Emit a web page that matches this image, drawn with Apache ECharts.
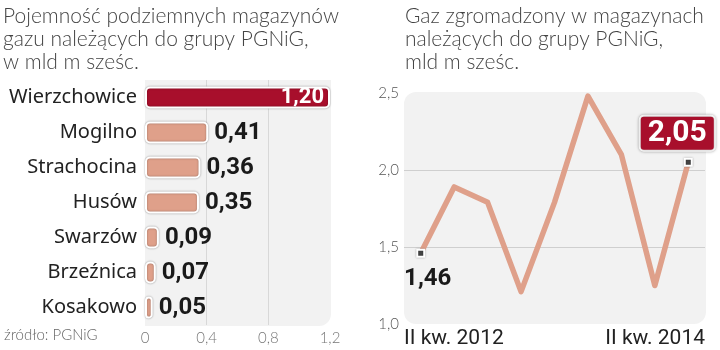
<!DOCTYPE html>
<html>
<head>
<meta charset="utf-8">
<script src="https://cdn.jsdelivr.net/npm/echarts@6/dist/echarts.min.js"></script>
<style>html,body{margin:0;padding:0;background:#fff}#c{width:720px;height:350px}</style>
</head>
<body>
<div id="c"></div>
<script>
// Left chart: storage capacity
const storageNames = ['Wierzchowice','Mogilno','Strachocina','Husów','Swarzów','Brzeźnica','Kosakowo'];
const storageValues = [1.20, 0.41, 0.36, 0.35, 0.09, 0.07, 0.05];
const capacityTicks = [0, 0.4, 0.8, 1.2];
// Right chart: gas stored
const quarters = ['II kw. 2012','III kw. 2012','IV kw. 2012','I kw. 2013','II kw. 2013','III kw. 2013','IV kw. 2013','I kw. 2014','II kw. 2014'];
const gasValues = [1.46, 1.89, 1.79, 1.21, 1.79, 2.48, 2.10, 1.25, 2.05];
const gasTicks = [1.0, 1.5, 2.0, 2.5];

const titleLeft = 'Pojemność podziemnych magazynów\ngazu należących do grupy PGNiG,\nw mld m sześc.';
const titleRight = 'Gaz zgromadzony w magazynach\nnależących do grupy PGNiG,\nmld m sześc.';
const sourceText = 'źródło: PGNiG';

const DARK = '#a80f2c', SALMON = '#dfa08a', BG = '#f2f2f2';
const COND = 'Roboto, "Liberation Sans", sans-serif';
const SANS = '"Noto Sans", "Open Sans", sans-serif';
const LIGHT = 'Lato, "Open Sans", sans-serif';
const comma = (v, d) => v.toFixed(d).replace('.', ',');

const chart = echarts.init(document.getElementById('c'), null, {renderer: 'canvas'});
const titleStyle = {fontFamily: LIGHT, fontWeight: 300, fontSize: 21, lineHeight: 23, color: '#444'};

chart.setOption({
  animation: false,
  textStyle: {fontFamily: SANS},
  title: [
    {text: titleLeft, left: 3, top: 5, padding: 0, textStyle: titleStyle},
    {text: titleRight, left: 405, top: 5, padding: 0, textStyle: titleStyle},
    {text: sourceText, left: 4, top: 328, padding: 0, textStyle: {fontFamily: LIGHT, fontWeight: 300, fontSize: 15, color: '#666'}}
  ],
  graphic: [
    {type: 'rect', z: -10, shape: {x: 145, y: 80, width: 186, height: 246, r: [0, 0, 12, 0]}, style: {fill: BG}},
    {type: 'rect', z: -10, shape: {x: 404, y: 92, width: 302, height: 232, r: 12}, style: {fill: BG}}
  ],
  grid: [
    {left: 145, right: 390, top: 80, height: 245},
    {left: 404, right: 15, top: 93, bottom: 26}
  ],
  xAxis: [
    {
      gridIndex: 0, type: 'value', min: capacityTicks[0], max: capacityTicks[capacityTicks.length - 1], interval: 0.4,
      axisLine: {show: false}, axisTick: {show: false},
      splitLine: {show: true, showMinLine: false, showMaxLine: false, lineStyle: {color: '#d8d8d8', width: 1}},
      axisLabel: {formatter: v => v === 0 ? '0' : comma(v, 1), color: '#777', fontSize: 15, fontFamily: LIGHT, fontWeight: 300, margin: 6}
    },
    {
      gridIndex: 1, type: 'category', data: quarters, boundaryGap: true, position: 'bottom',
      axisLine: {show: false}, axisTick: {show: false}, axisLabel: {show: false}
    },
    {
      // label-only axis spanning the full plot width, showing the first and last quarter
      gridIndex: 1, type: 'category', data: quarters, boundaryGap: false, position: 'bottom', offset: 0,
      axisLine: {show: false}, axisTick: {show: false}, splitLine: {show: false},
      axisLabel: {
        interval: (i) => i === 0 || i === quarters.length - 1,
        alignMinLabel: 'left', alignMaxLabel: 'right',
        color: '#222', fontSize: 21, margin: 4, fontFamily: 'Roboto', fontWeight: 'normal'
      }
    }
  ],
  yAxis: [
    {
      gridIndex: 0, type: 'category', data: storageNames, inverse: true,
      axisLine: {show: false}, axisTick: {show: false},
      axisLabel: {color: '#222', fontSize: 20, margin: 8, fontFamily: SANS}
    },
    {
      gridIndex: 1, type: 'value', min: gasTicks[0], max: gasTicks[gasTicks.length - 1], interval: 0.5,
      axisLine: {show: false}, axisTick: {show: false},
      splitLine: {show: true, showMinLine: false, showMaxLine: false, lineStyle: {color: '#cfcfcf', width: 1}},
      axisLabel: {formatter: v => comma(v, 1), color: '#555', fontSize: 15, margin: 5, fontFamily: LIGHT, fontWeight: 300}
    }
  ],
  series: [
    {
      type: 'bar', xAxisIndex: 0, yAxisIndex: 0, barWidth: 22,
      data: storageValues.map((v, i) => i === 0 ? {
        value: v,
        itemStyle: {color: DARK},
        label: {position: 'insideRight', color: '#fff', fontSize: 22, distance: 6}
      } : {value: v}),
      itemStyle: {color: SALMON, borderColor: '#fff', borderWidth: 2, borderRadius: 4, shadowColor: 'rgba(0,0,0,0.35)', shadowBlur: 2},
      label: {
        show: true, position: 'right', distance: 6,
        formatter: p => comma(p.value, 2),
        fontFamily: COND, fontWeight: 'bold', fontSize: 24, color: '#1a1a1a'
      }
    },
    {
      type: 'line', xAxisIndex: 1, yAxisIndex: 1,
      symbol: 'rect', symbolSize: 7,
      itemStyle: {color: '#444', borderColor: '#fff', borderWidth: 2, shadowColor: 'rgba(0,0,0,0.3)', shadowBlur: 2},
      lineStyle: {color: SALMON, width: 5.5, cap: 'round', join: 'round'},
      data: gasValues.map((v, i) => {
        if (i === 0) return {value: v, label: {show: true, position: 'bottom', distance: 9, offset: [7, 0],
          formatter: p => comma(p.value, 2), fontFamily: COND, fontWeight: 'bold', fontSize: 24, color: '#1a1a1a'}};
        if (i === gasValues.length - 1) return {value: v, label: {show: true, position: 'top', distance: 8, offset: [-11, 0],
          formatter: p => comma(p.value, 2), fontFamily: COND, fontWeight: 'bold', fontSize: 30, color: '#fff',
          backgroundColor: DARK, padding: [2, 7, 1, 7], borderColor: '#fff', borderWidth: 2, borderRadius: 3,
          shadowColor: 'rgba(0,0,0,0.35)', shadowBlur: 3}};
        return {value: v, symbol: 'none'};
      })
    }
  ]
});
</script>
</body>
</html>
